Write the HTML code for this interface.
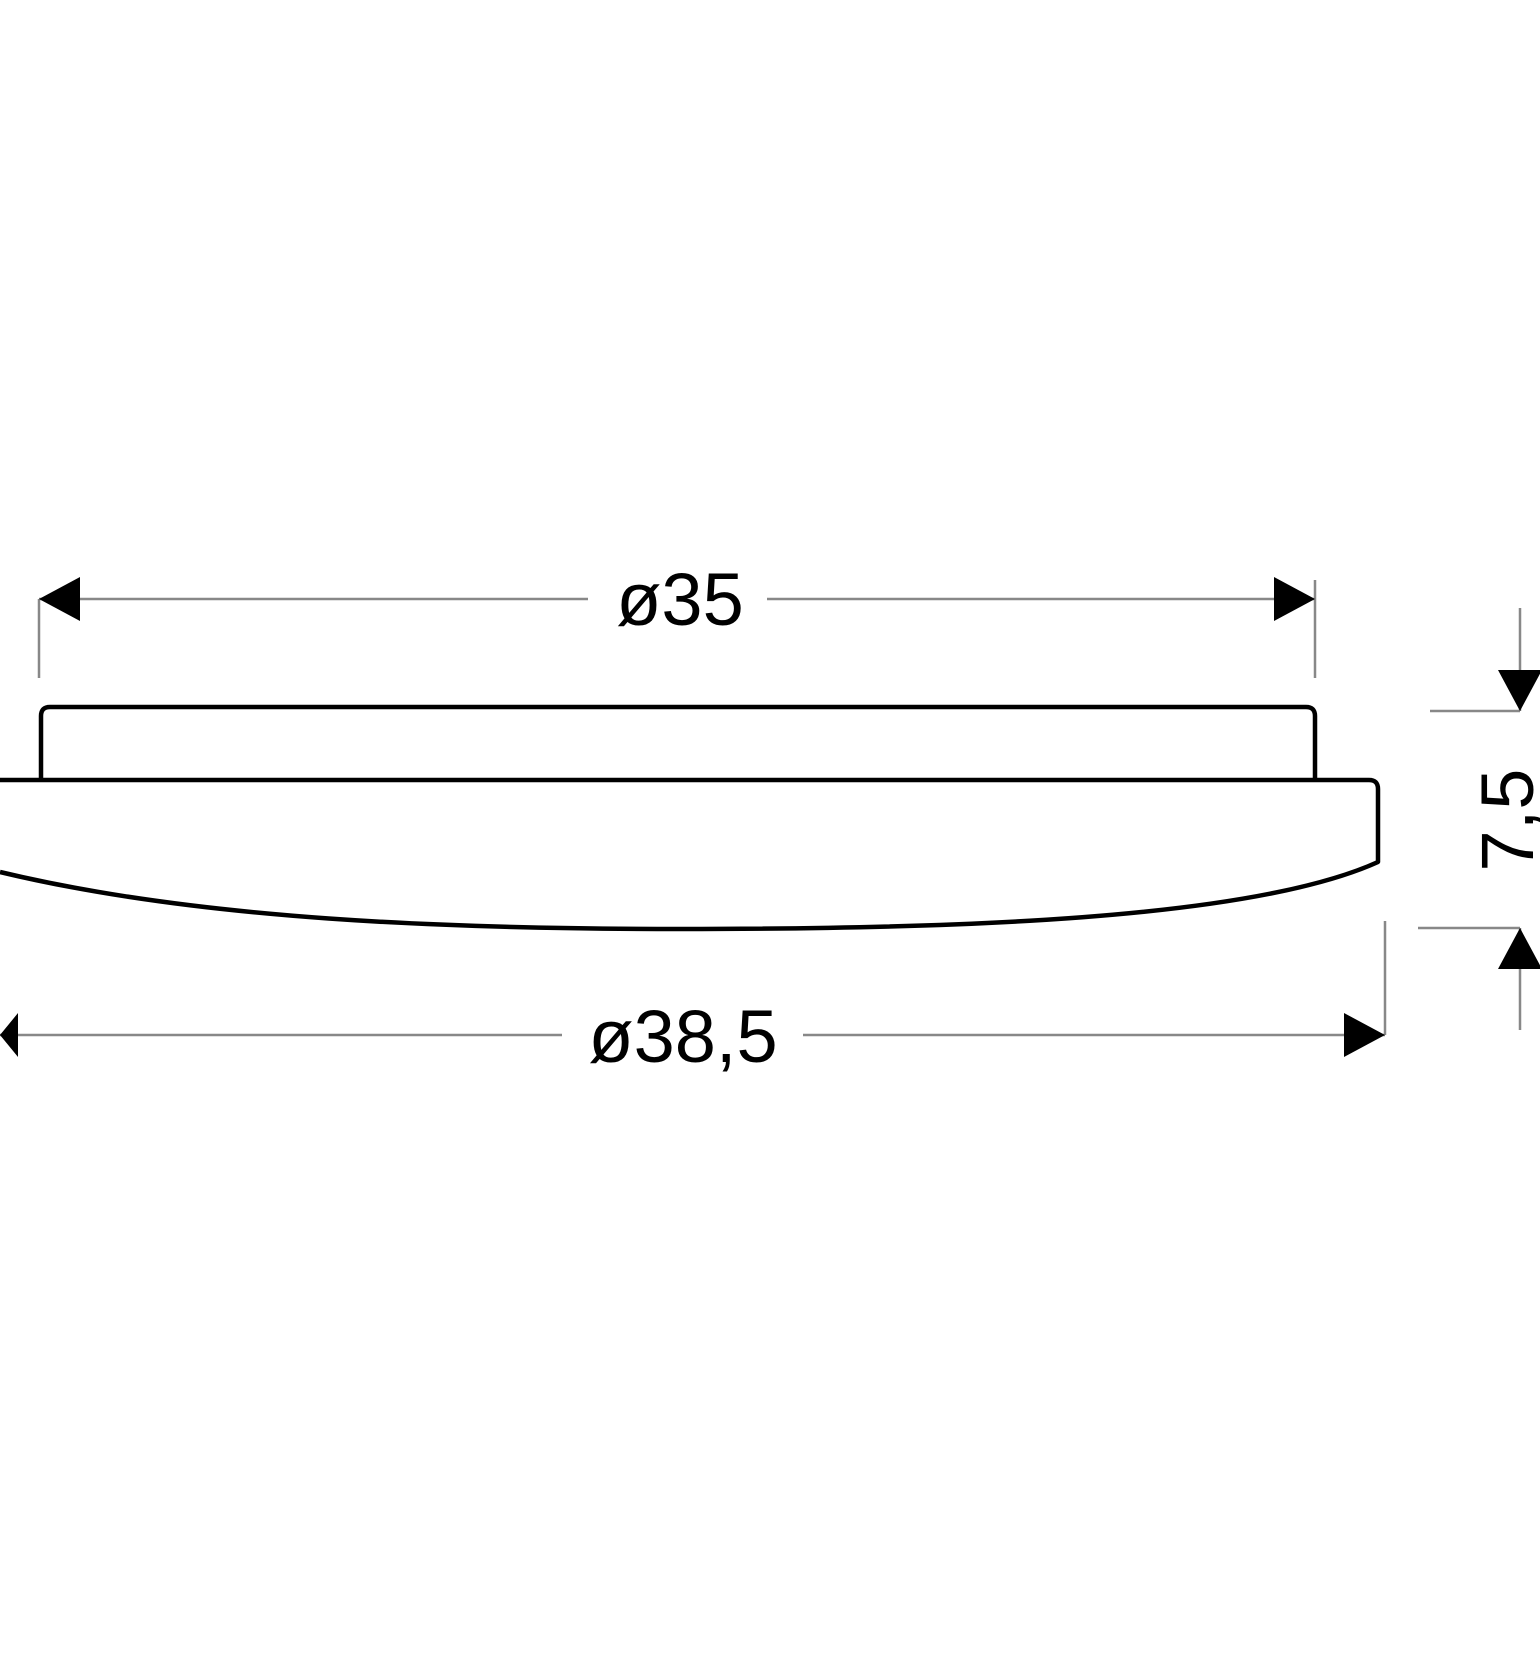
<!DOCTYPE html>
<html><head><style>html,body{margin:0;padding:0;background:#fff;overflow:hidden}</style></head>
<body>
<svg width="1540" height="1649" viewBox="0 0 1540 1649" xmlns="http://www.w3.org/2000/svg">
<rect width="1540" height="1649" fill="#fff"/>
<g stroke="#888" stroke-width="2.5" fill="none">
<line x1="39" y1="599" x2="588" y2="599"/>
<line x1="767" y1="599" x2="1315" y2="599"/>
<line x1="39" y1="599" x2="39" y2="678"/>
<line x1="1315" y1="580" x2="1315" y2="678"/>
<line x1="0" y1="1035" x2="562" y2="1035"/>
<line x1="803" y1="1035" x2="1385" y2="1035"/>
<line x1="1385" y1="921" x2="1385" y2="1035"/>
<line x1="1520" y1="608" x2="1520" y2="711"/>
<line x1="1430" y1="711" x2="1520" y2="711"/>
<line x1="1418" y1="928" x2="1520" y2="928"/>
<line x1="1520" y1="928" x2="1520" y2="1030"/>
</g>
<g fill="#000">
<polygon points="39,599 80,577 80,621"/>
<polygon points="1315,599 1274,577 1274,621"/>
<polygon points="0,1035 18,1013 18,1057"/>
<polygon points="1385,1035 1344,1013 1344,1057"/>
<polygon points="1520,711 1498,670 1542,670"/>
<polygon points="1520,928 1498,969 1542,969"/>
</g>
<g stroke="#000" stroke-width="4.5" fill="none" stroke-linejoin="round">
<path d="M41,780 L41,716 Q41,707 50,707 L1306,707 Q1315,707 1315,716 L1315,780"/>
<path d="M0,780 L1369,780 Q1378,780 1378,789 L1378,862 C1250,920 950,929 680,929 C450,929 200,920 0,872"/>
</g>
<g font-family="Liberation Sans, sans-serif" font-size="74" fill="#000" text-anchor="middle">
<text x="680" y="625">ø35</text>
<text x="683" y="1062">ø38,5</text>
<text transform="translate(1533,820) rotate(-90)">7,5</text>
</g>
</svg>
</body></html>
